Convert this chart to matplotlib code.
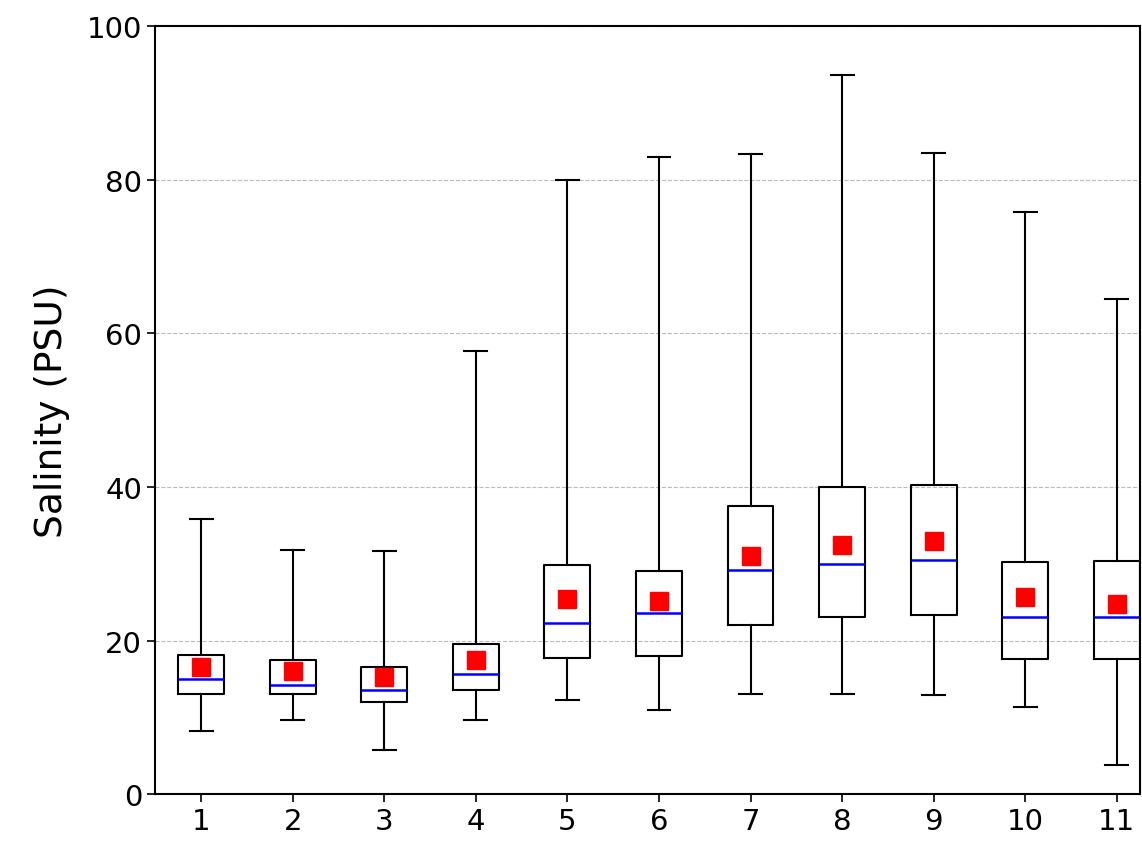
import matplotlib.pyplot as plt

labels = ['1', '2', '3', '4', '5', '6', '7', '8', '9', '10', '11']
whislo = [8.2, 9.6, 5.8, 9.6, 12.2, 10.9, 13.0, 13.0, 12.9, 11.3, 3.8]
q1 = [13.0, 13.0, 12.0, 13.5, 17.7, 18.0, 22.0, 23.0, 23.3, 17.6, 17.6]
med = [15.0, 14.2, 13.5, 15.6, 22.3, 23.6, 29.2, 29.9, 30.5, 23.0, 23.0]
q3 = [18.1, 17.5, 16.6, 19.5, 29.8, 29.1, 37.5, 40.0, 40.2, 30.2, 30.3]
whishi = [35.8, 31.8, 31.7, 57.7, 80.0, 83.0, 83.3, 93.6, 83.5, 75.8, 64.5]
mean = [16.6, 16.0, 15.3, 17.5, 25.4, 25.2, 31.0, 32.5, 33.0, 25.7, 24.7]

stats = []
for i in range(len(labels)):
    stats.append({'label': labels[i], 'whislo': whislo[i], 'q1': q1[i], 'med': med[i],
                  'q3': q3[i], 'whishi': whishi[i], 'mean': mean[i], 'fliers': []})

fig = plt.figure(figsize=(11.42, 8.45), dpi=100)
ax = fig.add_axes([0.136, 0.059, 0.862, 0.909])
ax.yaxis.grid(True, linestyle='--', color='#bbbbbb', linewidth=0.8)
ax.set_axisbelow(True)
ax.bxp(stats, widths=0.5, showmeans=True,
       boxprops=dict(color='black', linewidth=1.5),
       whiskerprops=dict(color='black', linewidth=1.5),
       capprops=dict(color='black', linewidth=1.5),
       medianprops=dict(color='blue', linewidth=1.8),
       meanprops=dict(marker='s', markerfacecolor='red', markeredgecolor='red', markersize=13))
ax.set_xlim(0.5, 11.25)
ax.set_ylim(0, 100)
ax.set_yticks([0, 20, 40, 60, 80, 100])
ax.tick_params(labelsize=21, width=1.2, length=6)
ax.set_ylabel('Salinity (PSU)', fontsize=27, labelpad=12)
for s in ax.spines.values():
    s.set_linewidth(1.5)
fig.savefig('out.png', dpi=100)
